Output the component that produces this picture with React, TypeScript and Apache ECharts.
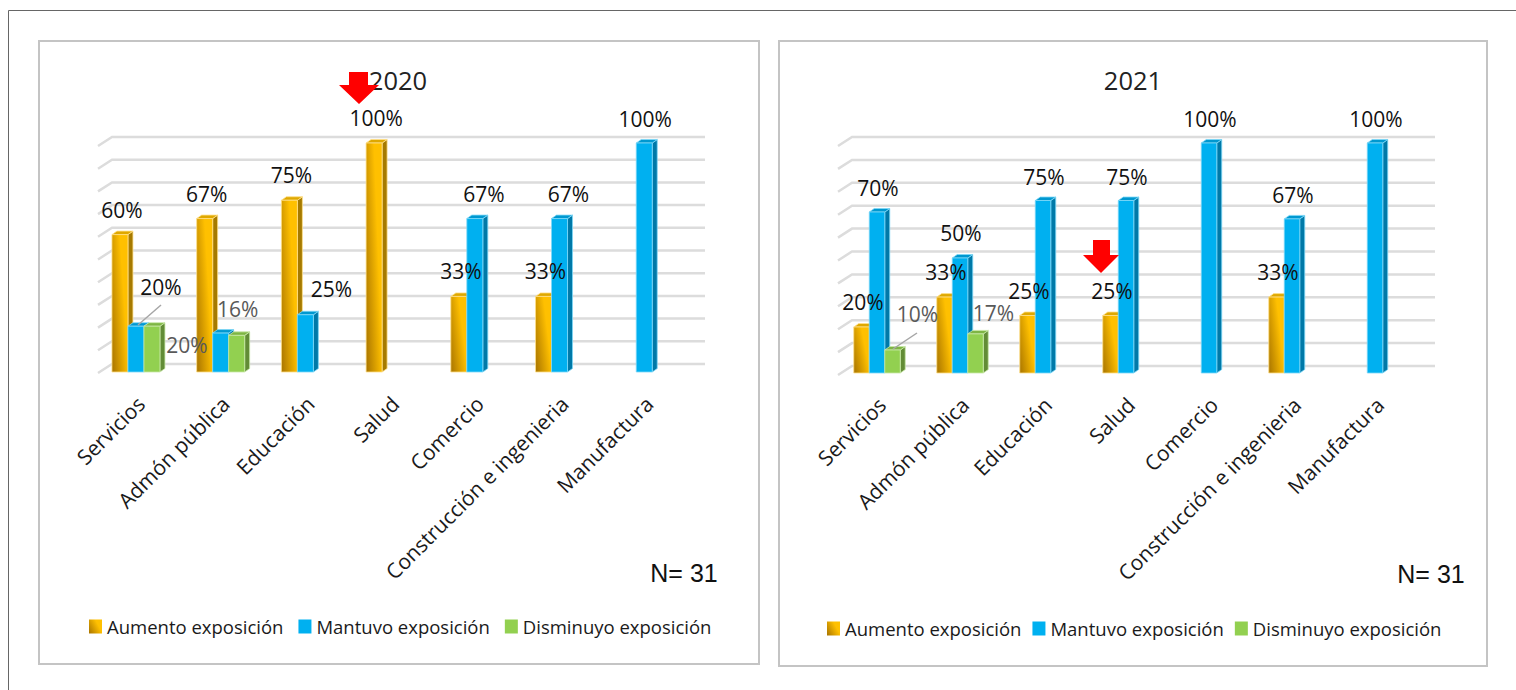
import React, { useEffect, useRef } from "react";
import * as echarts from "echarts";

const categories = ["Servicios", "Admón pública", "Educación", "Salud", "Comercio", "Construcción e ingenieria", "Manufactura"];
const seriesNames = ["Aumento exposición", "Mantuvo exposición", "Disminuyo exposición"];
const gridTicks = [0, 10, 20, 30, 40, 50, 60, 70, 80, 90, 100];

const aumento2020 = [60, 67, 75, 100, 33, 33, null];
const mantuvo2020 = [20, 17, 25, null, 67, 67, 100];
const disminuyo2020 = [20, 16, null, null, null, null, null];
const aumento2021 = [20, 33, 25, 25, null, 33, null];
const mantuvo2021 = [70, 50, 75, 75, 100, 67, 100];
const disminuyo2021 = [10, 17, null, null, null, null, null];

// label offsets from the top of each bar; null = no label drawn in the reference
const A: [number, number] = [2, -25];
const offsetsAumento2020 = [A, A, A, A, A, A, null];
const offsetsMantuvo2020 = [[25, -39], null, [26, -26], null, [9, -25], [9, -25], [1, -24]];
const offsetsDisminuyo2020 = [[35, 19], [1, -26], null, null, null, null, null];
const B: [number, number] = [1.5, -25];
const offsetsAumento2021 = [B, B, B, B, null, B, null];
const offsetsMantuvo2021 = [[1, -24], [1, -25], [1, -24], [1, -24], [1, -24], [1, -24], [1, -24]];
const offsetsDisminuyo2021 = [[25, -36], [18, -21], null, null, null, null, null];

const GOLD = new echarts.graphic.LinearGradient(0, 1, 0.8, 0.55, [
  { offset: 0, color: "#a87400" },
  { offset: 1, color: "#ffc000" },
]);
const palette = [
  { front: GOLD, side: "#a67a00", top: "#dfa800", edge: "#ffe08a" },
  { front: "#00b0f0", side: "#0079a8", top: "#0098d0", edge: "#7fd8f8" },
  { front: "#92d050", side: "#628c36", top: "#7eb544", edge: "#c9e8a8" },
];
const FONT = "'Open Sans', sans-serif";

type Panel = {
  title: string; titleX: number; nX: number; nY: number;
  left: number; width: number; top: number; base: number;
  backLeft: number; backWidth: number; backTop: number; backBase: number;
  barW: number; labelShift: number; legendLeft: number; legendTop: number; legendGap: number;
  values: (number | null)[][]; offsets: (number[] | null)[][];
};

const panels: Panel[] = [
  {
    title: "2020", titleX: 398, nX: 684, nY: 573,
    left: 93.6, width: 593, top: 143, base: 372,
    backLeft: 112, backWidth: 593, backTop: 137, backBase: 364,
    barW: 16, labelShift: 5, legendLeft: 89, legendTop: 617, legendGap: 15,
    values: [aumento2020, mantuvo2020, disminuyo2020],
    offsets: [offsetsAumento2020, offsetsMantuvo2020, offsetsDisminuyo2020],
  },
  {
    title: "2021", titleX: 1133, nX: 1431, nY: 574,
    left: 835.5, width: 581, top: 143, base: 373,
    backLeft: 852, backWidth: 583, backTop: 137, backBase: 366,
    barW: 15.5, labelShift: 5, legendLeft: 827, legendTop: 619, legendGap: 11,
    values: [aumento2021, mantuvo2021, disminuyo2021],
    offsets: [offsetsAumento2021, offsetsMantuvo2021, offsetsDisminuyo2021],
  },
];

function buildOption() {
  const grid: any[] = [], xAxis: any[] = [], yAxis: any[] = [], series: any[] = [];
  const title: any[] = [], legend: any[] = [];

  panels.forEach((p) => {
    const base = grid.length;
    // back wall (gridlines), front (bars), label strip (category labels)
    grid.push({ left: p.backLeft, width: p.backWidth, top: p.backTop, height: p.backBase - p.backTop });
    grid.push({ left: p.left, width: p.width, top: p.top, height: p.base - p.top });
    grid.push({ left: p.left + p.labelShift, width: p.width, top: p.top, height: p.base - p.top });
    [0, 1, 2].forEach((i) => {
      xAxis.push({
        type: "category", gridIndex: base + i, data: categories,
        axisLine: { show: false }, axisTick: { show: false }, splitLine: { show: false },
        axisLabel: i === 2
          ? { show: true, rotate: 45, interval: 0, margin: 28, fontSize: 21, fontFamily: FONT, color: "#1a1a1a" }
          : { show: false },
      });
      yAxis.push({ type: "value", gridIndex: base + i, min: 0, max: 100, interval: 10, show: false, splitLine: { show: false } });
    });

    series.push({
      type: "custom", xAxisIndex: base, yAxisIndex: base, silent: true, z: 1,
      data: gridTicks.map((t) => [0, t]), encode: { x: 0, y: 1 },
      renderItem: (params: any, api: any) => {
        const y = api.coord([0, api.value(1)])[1];
        const cs = params.coordSys;
        return {
          type: "polyline",
          shape: { points: [[cs.x - 14, y + 9], [cs.x, y], [cs.x + cs.width, y]] },
          style: { fill: "none", stroke: "#dcdcdc", lineWidth: 2.5 },
        };
      },
    });

    p.values.forEach((vals, si) => {
      const c = palette[si];
      series.push({
        type: "custom", name: seriesNames[si], xAxisIndex: base + 1, yAxisIndex: base + 1, silent: true, z: 2 + si,
        itemStyle: { color: si === 0 ? GOLD : c.front },
        data: vals.map((v, i) => [i, v]).filter((d) => d[1] !== null), encode: { x: 0, y: 1 },
        renderItem: (_: any, api: any) => {
          const pt = api.coord([api.value(0), api.value(1)]);
          const b0 = api.coord([api.value(0), 0]);
          const x = pt[0] + (si - 1) * p.barW - p.barW / 2;
          const w = p.barW, d = 5, r = 3.5;
          const y = pt[1], yb = b0[1];
          return {
            type: "group",
            children: [
              { type: "polygon", shape: { points: [[x + w, y], [x + w + d, y - r], [x + w + d, yb - r], [x + w, yb]] }, style: { fill: c.side, stroke: c.edge, lineWidth: 0.8 } },
              { type: "polygon", shape: { points: [[x, y], [x + d, y - r], [x + w + d, y - r], [x + w, y]] }, style: { fill: c.top, stroke: c.edge, lineWidth: 0.8 } },
              { type: "rect", shape: { x, y, width: w, height: yb - y }, style: { fill: c.front, stroke: c.edge, lineWidth: 0.8 } },
            ],
          };
        },
      });
    });

    // value labels
    const labelRows: any[] = [];
    p.values.forEach((vals, si) => vals.forEach((v, i) => {
      const o = p.offsets[si][i];
      if (v !== null && o) labelRows.push([i, v, si, o[0], o[1]]);
    }));
    series.push({
      type: "custom", xAxisIndex: base + 1, yAxisIndex: base + 1, silent: true, z: 10,
      data: labelRows, encode: { x: 0, y: 1 },
      renderItem: (_: any, api: any) => {
        const pt = api.coord([api.value(0), api.value(1)]);
        const si = api.value(2);
        return {
          type: "text",
          x: pt[0] + (si - 1) * p.barW + api.value(3),
          y: pt[1] + api.value(4),
          style: {
            text: api.value(1) + "%", fontSize: 21, fontFamily: FONT,
            fill: si === 2 ? "#595959" : "#111", align: "center", verticalAlign: "middle",
            textAlign: "center", textVerticalAlign: "middle",
          },
        };
      },
    });

    title.push({
      text: p.title, left: p.titleX - 5, top: 62, textAlign: "center",
      textStyle: { fontSize: 25.5, fontWeight: "normal", fontFamily: FONT, color: "#222" },
    });
    legend.push({
      left: p.legendLeft, top: p.legendTop, padding: 0, icon: "rect", itemWidth: 13, itemHeight: 14, itemGap: p.legendGap,
      selectedMode: false, data: seriesNames,
      textStyle: { fontSize: 18.5, fontFamily: FONT, color: "#1a1a1a" },
    });
  });

  const arrow = (x0: number, x1: number, hl: number, hr: number, t: number, h: number, tx: number, ty: number) => ({
    type: "polygon", z: 20, silent: true,
    shape: { points: [[x0, t], [x1, t], [x1, h], [hr, h], [tx, ty], [hl, h], [x0, h]] },
    style: { fill: "#ff0000" },
  });
  const leader = (x1: number, y1: number, x2: number, y2: number) => ({
    type: "line", z: 19, silent: true, shape: { x1, y1, x2, y2 }, style: { stroke: "#a6a6a6", lineWidth: 1.5 },
  });
  const panelBox = (x: number, y: number, width: number, height: number) => ({
    type: "rect", z: -10, silent: true, shape: { x, y, width, height }, style: { fill: "#fff", stroke: "#c4c4c4", lineWidth: 2 },
  });
  const nText = (x: number, y: number) => ({
    type: "text", z: 20, silent: true, x, y,
    style: { text: "N= 31", fontSize: 25, fontFamily: "'Liberation Sans', Arial, sans-serif", fill: "#111", textAlign: "center", textVerticalAlign: "middle", align: "center", verticalAlign: "middle" },
  });

  return {
    animation: false, backgroundColor: "#fff",
    title, legend, grid, xAxis, yAxis, series,
    graphic: [
      { type: "polyline", z: -11, silent: true, shape: { points: [[8.5, 690], [8.5, 10.5], [1516, 10.5]] }, style: { fill: "none", stroke: "#666", lineWidth: 1 } },
      panelBox(39, 41, 720, 623),
      panelBox(779, 41, 708, 625),
      nText(panels[0].nX, panels[0].nY),
      nText(panels[1].nX, panels[1].nY),
      arrow(349, 368, 339, 379, 72, 85, 359, 104),
      arrow(1093, 1110, 1083, 1119, 240, 255, 1101, 273),
      leader(138, 325, 161, 305),
      leader(893, 349, 917, 333),
    ],
  };
}

export default function App() {
  const ref = useRef<HTMLDivElement>(null);
  useEffect(() => {
    document.body.style.margin = "0";
    const chart = echarts.init(ref.current!, undefined, { renderer: "svg" });
    chart.setOption(buildOption() as any);
    return () => chart.dispose();
  }, []);
  return <div ref={ref} style={{ position: "absolute", left: 0, top: 0, width: 1516, height: 690 }} />;
}
